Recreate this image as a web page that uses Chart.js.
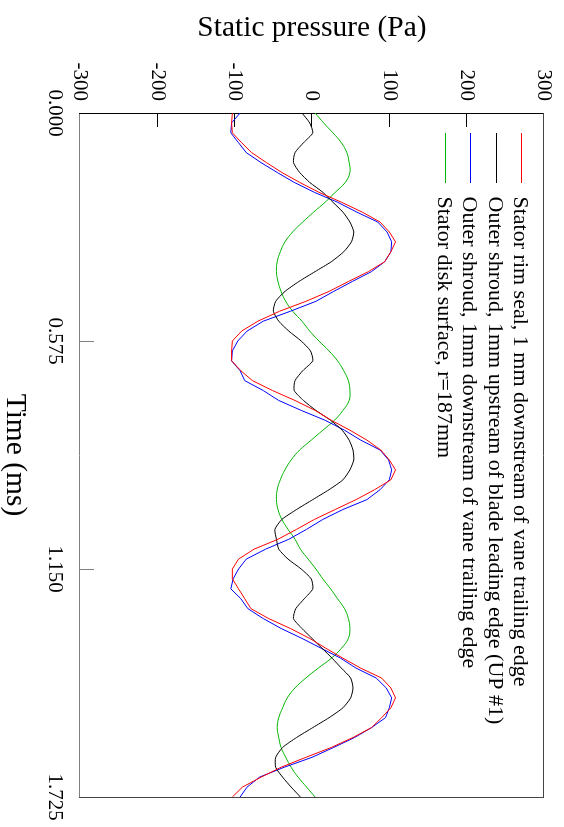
<!DOCTYPE html>
<html><head><meta charset="utf-8">
<script src="https://cdn.jsdelivr.net/npm/chart.js@4.4.0/dist/chart.umd.min.js"></script>
<style>
html,body{margin:0;padding:0;background:#fff;overflow:hidden;width:564px;height:827px}
#wrap{position:absolute;left:0;top:0;width:827px;height:564px;transform-origin:0 0;transform:translateX(564px) rotate(90deg)}
</style></head><body>
<div id="wrap"><canvas id="c" width="827" height="564"></canvas></div>
<script>
// Time (ms)
const timeMs = [0.000,0.025,0.050,0.075,0.100,0.125,0.150,0.175,0.200,0.225,0.250,0.275,0.300,0.325,0.350,0.375,0.400,0.425,0.450,0.475,0.500,0.525,0.550,
0.575,0.600,0.625,0.650,0.675,0.700,0.725,0.750,0.775,0.800,0.825,0.850,0.875,0.900,0.925,0.950,0.975,1.000,1.025,1.050,1.075,1.100,1.125,
1.150,1.175,1.200,1.225,1.250,1.275,1.300,1.325,1.350,1.375,1.400,1.425,1.450,1.475,1.500,1.525,1.550,1.575,1.600,1.625,1.650,1.675,1.700,1.725];
const timeTicks = [0.000, 0.575, 1.150, 1.725];
const pressureTicks = [-300, -200, -100, 0, 100, 200, 300];

// Static pressure (Pa)
const rimSeal = [-103,-104,-103,-91,-78,-59,-39,-16,9,38,65,88,100,108,102,94,73,47,22,-8,-42,-70,-91,
-103,-104,-104,-92,-77,-51,-22,4,25,49,71,89,100,108,102,81,57,30,3,-20,-44,-75,-95,
-103,-103,-95,-87,-79,-56,-28,-3,18,40,63,90,102,108,102,90,77,53,25,-8,-40,-66,-90,-103];
const shroudUpstream = [-13,-3,1,-11,-22,-24,-16,-3,14,27,40,49,54,51,41,25,4,-17,-35,-47,-50,-43,-30,
-14,-2,1,-12,-22,-23,-11,5,24,39,48,53,54,49,40,22,1,-20,-39,-48,-46,-43,-31,
-14,-1,1,-10,-21,-24,-13,0,13,26,38,50,53,50,40,22,1,-20,-38,-47,-47,-38,-27,-15];
const shroudDownstream = [-93,-104,-105,-95,-85,-66,-45,-23,3,33,58,85,97,103,102,94,77,52,28,5,-28,-63,-84,
-96,-103,-104,-93,-87,-63,-43,-14,17,42,63,88,99,103,100,88,71,40,14,-7,-30,-60,-85,
-95,-102,-105,-92,-83,-63,-40,-13,12,37,57,83,96,103,100,95,77,55,28,0,-36,-68,-84,-93];
const diskSurface = [4,15,27,38,45,48,49,43,30,17,2,-12,-25,-35,-41,-45,-46,-44,-40,-34,-25,-13,-3,
9,22,33,41,47,49,48,40,29,14,-1,-16,-27,-35,-41,-45,-46,-44,-39,-31,-22,-15,-5,
5,14,24,33,42,47,49,47,38,25,8,-8,-22,-32,-38,-43,-45,-43,-40,-34,-27,-18,-7,4];

const seriesLabels = [
  'Stator rim seal, 1 mm downstream of vane trailing edge',
  'Outer shroud, 1mm upstream of blade leading edge (UP #1)',
  'Outer shroud, 1mm downstream of vane trailing edge',
  'Stator disk surface, r=187mm'
];
const seriesValues = [rimSeal, shroudUpstream, shroudDownstream, diskSurface];
const seriesColors = ['#ff0000', '#000000', '#0000ff', '#00b400'];
const seriesTension = [0, 0.2, 0, 0.4];

const FONT = "'Liberation Serif', 'Times New Roman', serif";
Chart.defaults.font.family = FONT;
Chart.defaults.color = '#000';

const insideLegend = {
  id: 'insideLegend',
  afterDatasetsDraw(chart) {
    const {ctx, chartArea} = chart;
    ctx.save();
    ctx.font = "22px " + FONT;
    ctx.textBaseline = 'middle';
    ctx.textAlign = 'left';
    chart.data.datasets.forEach((ds, i) => {
      const y = Math.round(chartArea.top + 22 + i * 25.33) + 0.5;
      ctx.strokeStyle = ds.borderColor;
      ctx.lineWidth = 1;
      ctx.beginPath();
      ctx.moveTo(chartArea.left + 20, y);
      ctx.lineTo(chartArea.left + 70, y);
      ctx.stroke();
      ctx.fillStyle = '#000';
      ctx.fillText(ds.label, chartArea.left + 83.5, y + 1.5);
    });
    ctx.restore();
  }
};

const noPad = s => { s.paddingLeft = 0; s.paddingRight = 0; s.paddingTop = 0; s.paddingBottom = 0; };

new Chart(document.getElementById('c'), {
  type: 'line',
  data: {
    datasets: seriesValues.map((vals, i) => ({
      label: seriesLabels[i],
      data: timeMs.map((t, j) => ({x: t, y: vals[j]})),
      borderColor: seriesColors[i],
      backgroundColor: seriesColors[i],
      borderWidth: 1,
      pointRadius: 0,
      fill: false,
      tension: seriesTension[i]
    }))
  },
  options: {
    responsive: false,
    devicePixelRatio: 1,
    animation: false,
    layout: {padding: 0, autoPadding: false},
    plugins: {legend: {display: false}, tooltip: {enabled: false}},
    scales: {
      x: {
        type: 'linear', position: 'bottom', min: 0, max: 1.725,
        afterBuildTicks: s => { s.ticks = timeTicks.map(v => ({value: v})); },
        afterFit: s => { s.height = 80; noPad(s); },
        ticks: {autoSkip: false, maxRotation: 0, minRotation: 0, padding: 27,
          font: {size: 21}, color: '#000', callback: v => Number(v).toFixed(3)},
        grid: {drawOnChartArea: false, drawTicks: true, tickLength: -14, color: '#808080'},
        border: {display: true, color: '#808080', width: 1},
        title: {display: true, text: 'Time (ms)', font: {size: 29.5, lineHeight: 1}, padding: {top: 0, bottom: 0}, color: '#000'}
      },
      y: {
        type: 'linear', position: 'left', min: -300, max: 300,
        afterBuildTicks: s => { s.ticks = pressureTicks.map(v => ({value: v})); },
        afterFit: s => { s.width = 113; noPad(s); },
        ticks: {autoSkip: false, padding: 26, font: {size: 21}, color: '#000', callback: v => String(v)},
        grid: {drawOnChartArea: false, drawTicks: true, tickLength: -14, color: '#000'},
        border: {display: true, color: '#000', width: 1},
        title: {display: true, text: 'Static pressure (Pa)', font: {size: 29.5, lineHeight: 1}, padding: {top: 13, bottom: 0}, color: '#000'}
      },
      x2: {
        type: 'linear', axis: 'x', position: 'top', min: 0, max: 1.725,
        afterFit: s => { s.height = 20; noPad(s); },
        ticks: {display: false}, grid: {display: false, drawTicks: false},
        border: {display: true, color: '#444', width: 1}
      },
      y2: {
        type: 'linear', axis: 'y', position: 'right', min: -300, max: 300,
        afterFit: s => { s.width = 30; noPad(s); },
        ticks: {display: false}, grid: {display: false, drawTicks: false},
        border: {display: true, color: '#444', width: 1}
      }
    }
  },
  plugins: [insideLegend]
});
</script>
</body></html>
